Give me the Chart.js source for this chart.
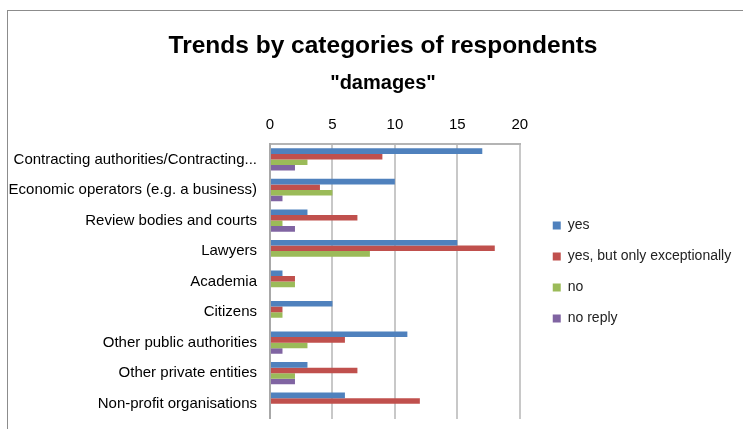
<!DOCTYPE html>
<html lang="en">
<head>
<meta charset="UTF-8">
<title>Trends by categories of respondents</title>
<style>
    html, body { margin: 0; padding: 0; background: #fff; overflow: hidden; }
    #frame {
        position: absolute;
        left: 7px;
        top: 10px;
        width: 760px;
        height: 440px;
        border: 1.5px solid #8c8c8c;
        box-sizing: border-box;
    }
    #wrap { position: absolute; left: -2.5px; top: -0.5px; width: 738px; height: 408px; }
</style>
</head>
<body>
<div id="frame">
    <div id="wrap"><canvas id="chart"></canvas></div>
</div>
<script src="https://cdn.jsdelivr.net/npm/chart.js"></script>
<script>
    const categories = [
        'Contracting authorities/Contracting...',
        'Economic operators (e.g. a business)',
        'Review bodies and courts',
        'Lawyers',
        'Academia',
        'Citizens',
        'Other public authorities',
        'Other private entities',
        'Non-profit organisations'
    ];
    const yes = [17, 10, 3, 15, 1, 5, 11, 3, 6];
    const yesExceptionally = [9, 4, 7, 18, 2, 1, 6, 7, 12];
    const no = [3, 5, 1, 8, 2, 1, 3, 2, 0];
    const noReply = [2, 1, 2, 0, 0, 0, 1, 2, 0];
    const xTicks = [0, 5, 10, 15, 20];

    const font = "'Liberation Sans', Arial, sans-serif";

    // excel-like placement: legend a bit away from the plot,
    // titles centred on the whole (wider) chart frame
    const excelLayout = {
        id: 'excelLayout',
        afterLayout(chart) {
            const lg = chart.legend;
            lg.left = chart.chartArea.right + 16;
            lg.width = 220;
            lg.right = lg.left + lg.width;
            lg.top += 57; lg.bottom += 57;
            chart.boxes.forEach(b => {
                if (b.fullSize && b.position === 'top' && !b.axis) {
                    b.left = 0; b.width = 754; b.right = 754;
                }
            });
        }
    };

    const ctx = document.getElementById('chart').getContext('2d');
    new Chart(ctx, {
        type: 'bar',
        data: {
            labels: categories,
            datasets: [
                { label: 'yes', data: yes, backgroundColor: '#4F81BD' },
                { label: 'yes, but only exceptionally', data: yesExceptionally, backgroundColor: '#C0504D' },
                { label: 'no', data: no, backgroundColor: '#9BBB59' },
                { label: 'no reply', data: noReply, backgroundColor: '#8064A2' }
            ]
        },
        plugins: [excelLayout],
        options: {
            indexAxis: 'y',
            responsive: true,
            maintainAspectRatio: false,
            animation: false,
            datasets: {
                bar: { categoryPercentage: 0.73, barPercentage: 1.0 }
            },
            layout: { padding: { left: 0, right: 53, top: 0, bottom: 0 } },
            plugins: {
                title: {
                    display: true,
                    text: 'Trends by categories of respondents',
                    color: '#000',
                    font: { family: font, size: 24.5, weight: 'bold' },
                    padding: { top: 20.3, bottom: 10.3 }
                },
                subtitle: {
                    display: true,
                    text: '"damages"',
                    color: '#000',
                    font: { family: font, size: 20, weight: 'bold' },
                    padding: { top: 0, bottom: 11.2 }
                },
                legend: {
                    position: 'right',
                    align: 'center',
                    labels: {
                        boxWidth: 8,
                        boxHeight: 8,
                        padding: 17,
                        color: '#222',
                        font: { family: font, size: 14 }
                    }
                },
                tooltip: { enabled: false }
            },
            scales: {
                x: {
                    position: 'top',
                    min: 0,
                    max: 20,
                    afterBuildTicks: (axis) => { axis.ticks = xTicks.map(v => ({ value: v })); },
                    grid: { color: '#c8c8c8', lineWidth: 2, drawTicks: false },
                    border: { display: true, color: '#b4b4b4', width: 2 },
                    ticks: {
                        padding: 10,
                        color: '#000',
                        font: { family: font, size: 15 }
                    }
                },
                y: {
                    afterFit: (axis) => {
                        axis.width = 264;
                        axis.paddingTop = 0;
                        axis.paddingBottom = 0;
                    },
                    grid: { display: false, drawTicks: false },
                    border: { display: true, color: '#a8a8a8', width: 2 },
                    ticks: {
                        padding: 13,
                        color: '#000',
                        font: { family: font, size: 15 }
                    }
                }
            }
        }
    });
</script>
</body>
</html>
